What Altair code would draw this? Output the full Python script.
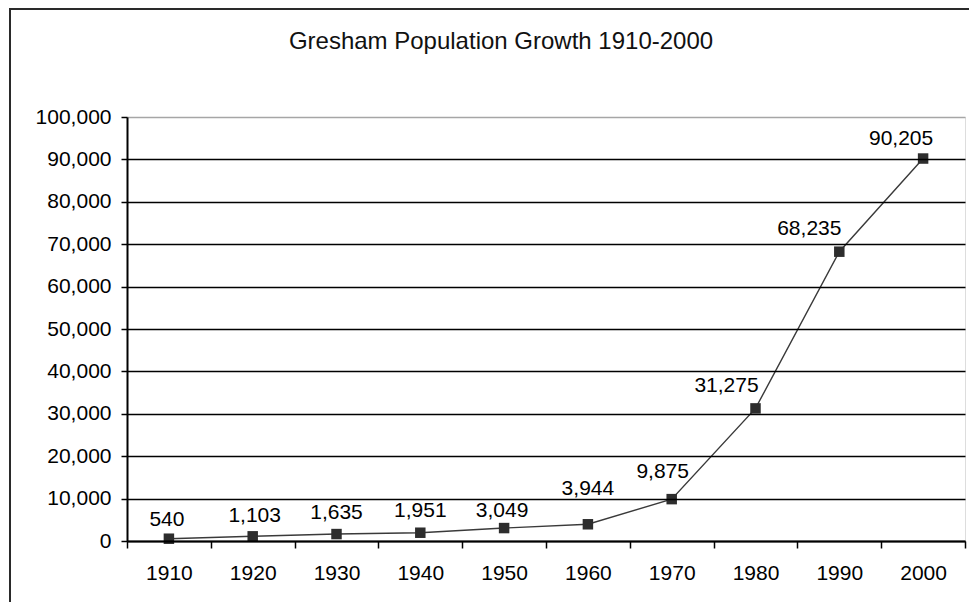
import altair as alt
import pandas as pd

# ---- data ----
years = ["1910", "1920", "1930", "1940", "1950", "1960", "1970", "1980", "1990", "2000"]
population = [540, 1103, 1635, 1951, 3049, 3944, 9875, 31275, 68235, 90205]
y_ticks = [0, 10000, 20000, 30000, 40000, 50000, 60000, 70000, 80000, 90000, 100000]
title_text = "Gresham Population Growth 1910-2000"

# ---- style (label nudges as Excel placed them) ----
label_nudge = {
    "1910": (-2, -19), "1920": (2, -20), "1930": (0, -21), "1940": (0, -22),
    "1950": (-2, -17), "1960": (0, -35), "1970": (-9, -27), "1980": (-29, -22),
    "1990": (-30, -23), "2000": (-22, -20),
}
FONT = "Liberation Sans"
W, H = 838, 424
PAD = {"left": 119, "top": 109, "right": 4, "bottom": 61}

df = pd.DataFrame({"year": years, "population": population})
df["label"] = [f"{v:,}" for v in population]

x_enc = alt.X(
    "year:N", sort=years,
    scale=alt.Scale(type="band", paddingInner=0, paddingOuter=0),
    axis=alt.Axis(
        title=None, labelAngle=0, tickBand="extent", grid=False,
        domainColor="black", domainWidth=2, tickColor="black", tickWidth=1.5,
        tickSize=7, labelPadding=14, labelFont=FONT, labelFontSize=21,
        labelColor="black", zindex=1,
    ),
)
y_enc = alt.Y(
    "population:Q",
    scale=alt.Scale(domain=[0, 100000], nice=False),
    axis=alt.Axis(
        title=None, values=y_ticks, format=",d",
        grid=True, gridWidth=1.5,
        gridColor=alt.condition("datum.value >= 100000", alt.value("#a6a6a6"), alt.value("black")),
        domainColor="black", domainWidth=2, tickColor="black", tickWidth=1.5,
        tickSize=6, labelPadding=10, labelFont=FONT, labelFontSize=21,
        labelColor="black", zindex=1,
    ),
)

base = alt.Chart(df)

line = base.mark_line(color="#3a3a3a", strokeWidth=1.4).encode(x=x_enc, y=y_enc)
points = base.mark_square(size=110, color="#2d2d2d", opacity=1).encode(x=x_enc, y=y_enc)

label_layers = []
for yr in years:
    dx, dy = label_nudge[yr]
    label_layers.append(
        base.transform_filter(alt.datum.year == yr)
        .mark_text(dx=dx, dy=dy, font=FONT, fontSize=21, color="black")
        .encode(x=x_enc, y=y_enc, text="label:N")
    )

deco = alt.Chart(pd.DataFrame({"k": [title_text]}))
frame = deco.mark_rect(fillOpacity=0, stroke="#2a2a2a", strokeWidth=2).encode(
    x=alt.value(-117), x2=alt.value(W + 60), y=alt.value(-108), y2=alt.value(H + 120)
)
title = deco.mark_text(font=FONT, fontSize=24, color="#111111", baseline="middle", align="center").encode(
    x=alt.value(374), y=alt.value(-75), text="k:N"
)

chart = (
    alt.layer(frame, title, line, points, *label_layers)
    .properties(width=W, height=H, padding=PAD, autosize=alt.AutoSizeParams(type="none"))
    .configure_view(stroke="#a6a6a6", strokeWidth=1.5)
    .configure(background="white")
)

chart.save("out.html", embed_options={"renderer": "svg", "actions": False})
